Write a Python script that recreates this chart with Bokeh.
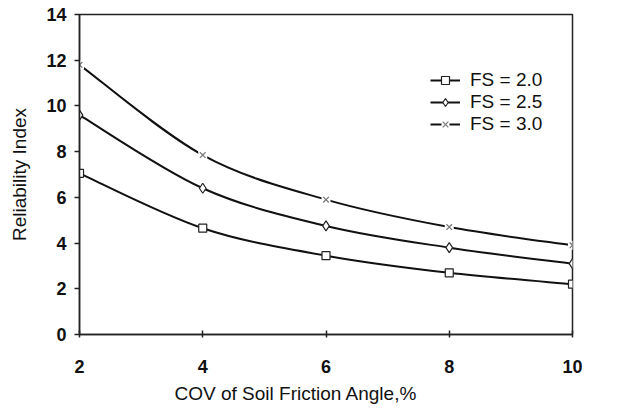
from bokeh.plotting import figure
from bokeh.models import Range1d, FixedTicker, Legend, LegendItem, Title
from bokeh.embed import file_html
from bokeh.resources import INLINE

cov = [2, 4, 6, 8, 10]
fs20 = [7.05, 4.65, 3.45, 2.7, 2.2]
fs25 = [9.6, 6.4, 4.75, 3.8, 3.1]
fs30 = [11.8, 7.85, 5.9, 4.7, 3.9]
x_ticks = [2, 4, 6, 8, 10]
y_ticks = [0, 2, 4, 6, 8, 10, 12, 14]

p = figure(width=623, height=414, output_backend="svg", toolbar_location=None,
           x_range=Range1d(2, 10), y_range=Range1d(0, 14),
           min_border_left=79, min_border_right=51, min_border_top=14, min_border_bottom=80)
p.grid.visible = False
p.outline_line_color = "#222222"
p.outline_line_width = 1.5
p.background_fill_color = "white"
p.border_fill_color = "white"

FONT = "Liberation Sans"
for ax in (p.xaxis[0], p.yaxis[0]):
    ax.axis_line_color = "#222222"
    ax.axis_line_width = 1.5
    ax.major_tick_line_color = "#222222"
    ax.major_tick_line_width = 1.5
    ax.minor_tick_line_color = None
    ax.major_label_text_font = FONT
    ax.major_label_text_font_size = "18px"
    ax.major_label_text_font_style = "bold"
    ax.major_label_text_color = "#111111"
    ax.axis_label_text_font = FONT
    ax.axis_label_text_font_size = "19px"
    ax.axis_label_text_font_style = "normal"
    ax.axis_label_text_color = "#111111"

p.xaxis[0].ticker = FixedTicker(ticks=x_ticks)
p.yaxis[0].ticker = FixedTicker(ticks=y_ticks)
p.xaxis[0].major_tick_in = 4
p.xaxis[0].major_tick_out = 3
p.yaxis[0].major_tick_in = 0
p.yaxis[0].major_tick_out = 5
p.xaxis[0].major_label_standoff = 22
p.yaxis[0].major_label_standoff = 8
p.yaxis[0].axis_label = "Reliability Index"
p.yaxis[0].axis_label_standoff = 13

xt = Title(text="COV of Soil Friction Angle,%", align="left", offset=95,
           text_font=FONT, text_font_size="19px", text_font_style="normal",
           text_color="#111111", standoff=10)
p.add_layout(xt, "below")


def smooth(xs, ys):
    n = len(xs)
    px = [xs[0]] + list(xs) + [xs[-1]]
    py = [ys[0]] + list(ys) + [ys[-1]]
    x0, y0, x1, y1, cx0, cy0, cx1, cy1 = [], [], [], [], [], [], [], []
    for i in range(n - 1):
        a, b, c, d = i, i + 1, i + 2, i + 3
        x0.append(px[b]); y0.append(py[b]); x1.append(px[c]); y1.append(py[c])
        cx0.append(px[b] + (px[c] - px[a]) / 6); cy0.append(py[b] + (py[c] - py[a]) / 6)
        cx1.append(px[c] - (px[d] - px[b]) / 6); cy1.append(py[c] - (py[d] - py[b]) / 6)
    return dict(x0=x0, y0=y0, x1=x1, y1=y1, cx0=cx0, cy0=cy0, cx1=cx1, cy1=cy1)


items = []
series = [("FS = 2.0", fs20, "square", "#222222", 8),
          ("FS = 2.5", fs25, "diamond", "#222222", 10),
          ("FS = 3.0", fs30, "x", "#777777", 8)]
for label, ys, marker, mcol, msize in series:
    s = smooth(cov, ys)
    p.bezier(x0=s["x0"], y0=s["y0"], x1=s["x1"], y1=s["y1"], cx0=s["cx0"], cy0=s["cy0"],
             cx1=s["cx1"], cy1=s["cy1"], line_color="#111111", line_width=2)
    # single-point line: draws nothing on the plot, only supplies the legend's line glyph
    ln = p.line(x=[cov[0]], y=[ys[0]], line_color="#111111", line_width=2)
    rends = [ln]
    if marker == "x":
        bg = p.scatter(cov, ys, marker="square", size=msize + 1,
                       line_color=None, fill_color="white")
        rends.append(bg)
    sc = p.scatter(cov, ys, marker=marker, size=msize,
                   line_color=mcol, fill_color="white", line_width=1.2)
    rends.append(sc)
    items.append(LegendItem(label=label, renderers=rends))

legend = Legend(items=items, location=(351, 199), border_line_color=None,
                background_fill_color="white", background_fill_alpha=1,
                label_text_font=FONT, label_text_font_size="19px", label_text_color="#111111",
                glyph_width=30, glyph_height=20, label_height=20, spacing=0, padding=0,
                margin=0, label_standoff=10)
p.add_layout(legend, "center")

open("out.html", "w").write(file_html(p, INLINE))
